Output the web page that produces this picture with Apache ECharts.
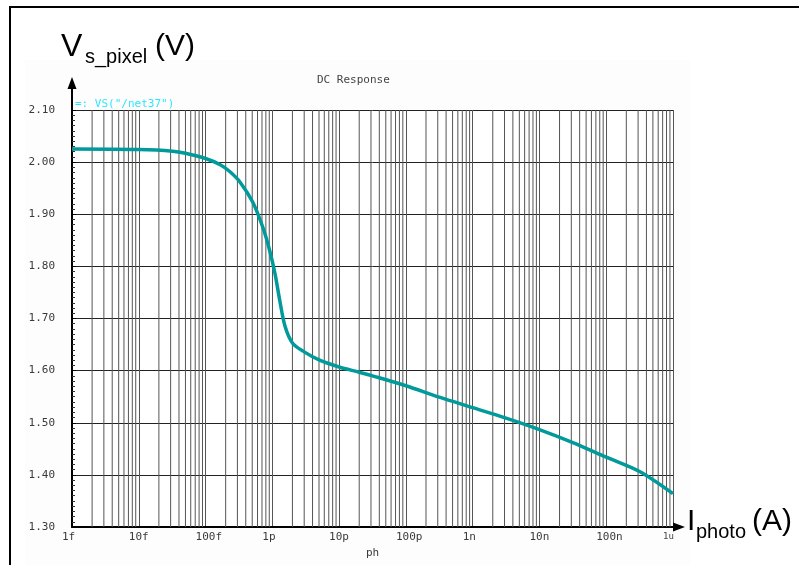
<!DOCTYPE html>
<html>
<head>
<meta charset="utf-8">
<script src="https://cdn.jsdelivr.net/npm/echarts@6/dist/echarts.min.js"></script>
<style>
html,body{margin:0;padding:0;background:#fff;}
#c{width:799px;height:565px;}
</style>
</head>
<body>
<div id="c"></div>
<script>
// ---- data ----
const seriesName = 'VS("/net37")';
const chartTitle = 'DC Response';
const photoCurrent = [1e-15, 1e-14, 3.2e-14, 5e-14, 1e-13, 1.66e-13, 2.3e-13, 3.27e-13, 5.1e-13, 7.2e-13, 9.1e-13, 1.1e-12, 1.29e-12, 1.55e-12, 2.0e-12, 3.0e-12, 5.1e-12, 1e-11, 2e-11, 3.16e-11, 1e-10, 3.16e-10, 1e-9, 3.16e-9, 1e-8, 3.16e-8, 1e-7, 3.2e-7, 1e-6];
const pixelVoltage = [2.025, 2.024, 2.021, 2.017, 2.007, 1.995, 1.982, 1.962, 1.923, 1.875, 1.831, 1.785, 1.735, 1.685, 1.653, 1.636, 1.620, 1.607, 1.597, 1.590, 1.571, 1.549, 1.529, 1.509, 1.487, 1.462, 1.434, 1.406, 1.364];
const xTickLabels = ['1f', '10f', '100f', '1p', '10p', '100p', '1n', '10n', '100n', '1u'];
const xMin = 1e-15, xMax = 1e-6;
const yMin = 1.3, yMax = 2.1, yStep = 0.1;

// minor (2..9 x decade) vertical grid positions
const minorX = [];
for (let e = -15; e < -6; e++) {
  for (let k = 2; k <= 9; k++) minorX.push(k * Math.pow(10, e));
}

const chart = echarts.init(document.getElementById('c'), null, {renderer: 'canvas'});
const mono = '"DejaVu Sans Mono", monospace';
const sans = '"Liberation Sans", Arial, sans-serif';

const gridSeries = minorX.map(v => ({
  type: 'line', silent: true, showSymbol: false, z: 1,
  data: [[v, yMin], [v, yMax]],
  lineStyle: {color: '#555', width: 1},
  emphasis: {disabled: true}, tooltip: {show: false}
}));

chart.setOption({
  backgroundColor: '#ffffff',
  animation: false,
  title: {
    text: chartTitle, left: 312, top: 70,
    textStyle: {fontFamily: mono, fontSize: 11, fontWeight: 'normal', color: '#444'}
  },
  legend: {
    left: 65, top: 92, icon: 'none', itemWidth: 0, itemGap: 0,
    formatter: '=: {name}',
    textStyle: {fontFamily: mono, fontSize: 11, color: '#2ee6ff'},
    data: [seriesName]
  },
  grid: {left: 72, right: 126, top: 110, bottom: 38, containLabel: false, outerBoundsMode: 'none',
         show: true, backgroundColor: '#ffffff', borderWidth: 0},
  xAxis: {
    type: 'log', logBase: 10, min: xMin, max: xMax, splitNumber: 10,
    name: 'ph', nameLocation: 'middle', nameGap: 17,
    nameTextStyle: {fontFamily: mono, fontSize: 11, color: '#3a3a3a'},
    axisLine: {show: true, lineStyle: {color: '#000', width: 2}},
    axisTick: {show: false},
    axisLabel: {
      margin: 5, align: 'left', padding: [0, 0, 0, -10],
      fontFamily: mono, fontSize: 11, color: '#3a3a3a',
      formatter: function (v) {
        const i = Math.round(Math.log10(v)) + 15;
        const t = xTickLabels[i] || '';
        return i === 9 ? '{s|' + t + '}' : t;
      },
      rich: {s: {fontFamily: mono, fontSize: 9, color: '#444'}}
    },
    splitLine: {show: true, lineStyle: {color: '#555', width: 1}}
  },
  yAxis: {
    type: 'value', min: yMin, max: yMax, interval: yStep,
    axisLine: {show: true, lineStyle: {color: '#000', width: 2}},
    axisTick: {show: true, inside: true, length: 4, lineStyle: {color: '#000'}},
    minorTick: {show: true, splitNumber: 10, length: 3, lineStyle: {color: '#333'}},
    axisLabel: {
      margin: 17, fontFamily: mono, fontSize: 11, color: '#3a3a3a',
      formatter: function (v) { return v.toFixed(2); }
    },
    splitLine: {show: true, lineStyle: {color: '#222', width: 1}}
  },
  series: gridSeries.concat([{
    name: seriesName,
    type: 'line',
    data: photoCurrent.map((x, i) => [x, pixelVoltage[i]]),
    smooth: 0.3,
    showSymbol: false,
    lineStyle: {color: '#009a9a', width: 3.5},
    itemStyle: {color: '#009a9a'},
    z: 5
  }]),
  graphic: [
    {type: 'rect', z: -10, silent: true, shape: {x: 25, y: 60, width: 665, height: 510}, style: {fill: '#fdfdfd'}},
    {type: 'rect', z: 100, silent: true, shape: {x: 10, y: 7, width: 800, height: 570}, style: {fill: 'none', stroke: '#000', lineWidth: 2}},
    // y axis arrow extension
    {type: 'line', z: 100, silent: true, shape: {x1: 72, y1: 110, x2: 72, y2: 86}, style: {stroke: '#000', lineWidth: 2}},
    {type: 'polygon', z: 100, silent: true, shape: {points: [[72, 77], [67.5, 89], [76.5, 89]]}, style: {fill: '#000'}},
    // x axis arrow
    {type: 'polygon', z: 100, silent: true, shape: {points: [[685, 527], [673, 522.5], [673, 531.5]]}, style: {fill: '#000'}},
    // big axis titles
    {type: 'text', z: 100, silent: true, x: 61, y: 47, style: {text: 'V', font: '32px ' + sans, fill: '#000', verticalAlign: 'middle'}},
    {type: 'text', z: 100, silent: true, x: 85, y: 57, style: {text: 's_pixel', font: '20px ' + sans, fill: '#000', verticalAlign: 'middle'}},
    {type: 'text', z: 100, silent: true, x: 155, y: 47, style: {text: '(V)', font: '30px ' + sans, fill: '#000', verticalAlign: 'middle'}},
    {type: 'text', z: 100, silent: true, x: 687, y: 522, style: {text: 'I', font: '30px ' + sans, fill: '#000', verticalAlign: 'middle'}},
    {type: 'text', z: 100, silent: true, x: 696, y: 532, style: {text: 'photo', font: '20px ' + sans, fill: '#000', verticalAlign: 'middle'}},
    {type: 'text', z: 100, silent: true, x: 752, y: 522, style: {text: '(A)', font: '30px ' + sans, fill: '#000', verticalAlign: 'middle'}}
  ]
});
</script>
</body>
</html>
